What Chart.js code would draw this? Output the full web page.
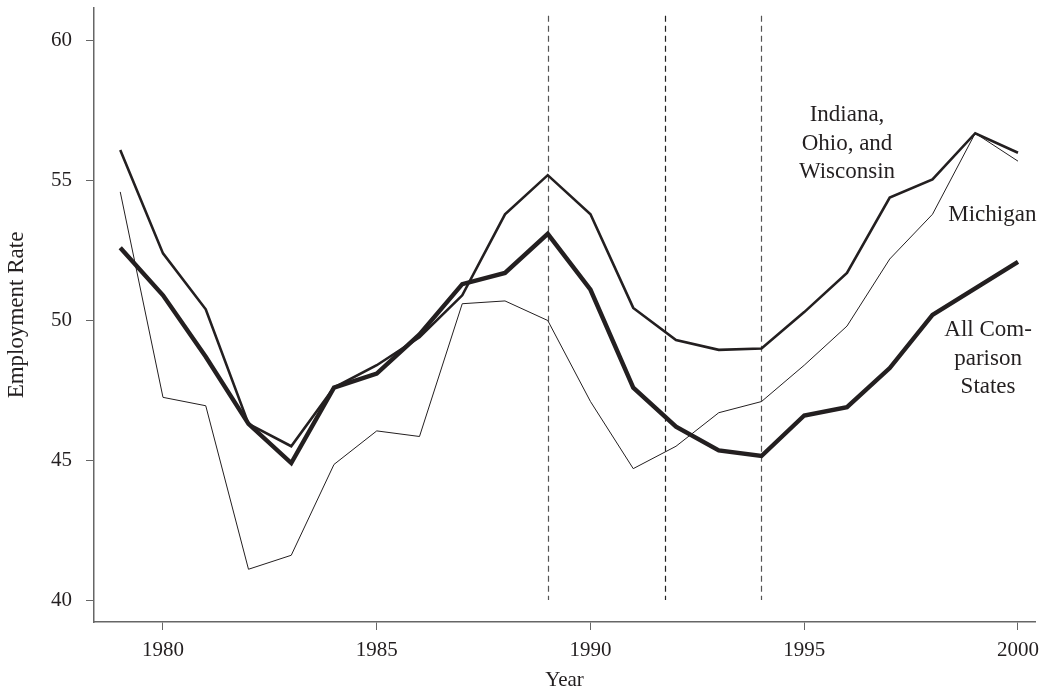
<!DOCTYPE html>
<html>
<head>
<meta charset="utf-8">
<title>Employment Rate</title>
<script src="https://cdn.jsdelivr.net/npm/chart.js@4.4.1/dist/chart.umd.min.js"></script>
<style>
  html, body { margin: 0; padding: 0; background: #fff; }
  #wrap { width: 1049px; height: 691px; }
</style>
</head>
<body>
<div id="wrap"><canvas id="empChart" width="1049" height="691"></canvas></div>
<script>
// Data
const years = [1979, 1980, 1981, 1982, 1983, 1984, 1985, 1986, 1987, 1988, 1989,
               1990, 1991, 1992, 1993, 1994, 1995, 1996, 1997, 1998, 1999, 2000];
const indOhWis = [56.1, 52.4, 50.4, 46.3, 45.5, 47.6, 48.4, 49.4, 50.9, 53.8, 55.2,
                  53.8, 50.45, 49.3, 48.95, 49.0, 50.3, 51.7, 54.4, 55.05, 56.7, 56.0];
const michigan = [54.6, 47.25, 46.95, 41.1, 41.6, 44.85, 46.05, 45.85, 50.6, 50.7, 50.0,
                  47.1, 44.7, 45.5, 46.7, 47.1, 48.4, 49.8, 52.2, 53.8, 56.7, 55.7];
const allStates = [52.6, 50.9, 48.7, 46.3, 44.9, 47.6, 48.1, 49.5, 51.3, 51.7, 53.1,
                   51.1, 47.6, 46.2, 45.35, 45.15, 46.6, 46.9, 48.3, 50.2, 51.15, 52.1];

const xTicks = [1980, 1985, 1990, 1995, 2000];
const yTicks = [40, 45, 50, 55, 60];
const markerYears = [1989, 1991.75, 1994];

const ink = '#231f20';
const axisGray = '#666666';
const serif = "'Liberation Serif', 'Times New Roman', serif";

function toPoints(vals) {
  return years.map((x, i) => ({ x: x, y: vals[i] }));
}

// Dashed vertical marker lines
const markerPlugin = {
  id: 'markers',
  beforeDatasetsDraw(chart) {
    const { ctx, scales: { x, y } } = chart;
    ctx.save();
    ctx.lineWidth = 1.2;
    ctx.setLineDash([6, 4]);
    markerYears.forEach((yr, i) => {
      const px = Math.round(x.getPixelForValue(yr)) + 0.5;
      ctx.strokeStyle = i === 1 ? '#222' : '#555';
      ctx.beginPath();
      ctx.moveTo(px, y.getPixelForValue(60.9));
      ctx.lineTo(px, y.getPixelForValue(40));
      ctx.stroke();
    });
    ctx.restore();
  }
};

// Series labels written inside the plot
const labelPlugin = {
  id: 'seriesLabels',
  afterDatasetsDraw(chart) {
    const { ctx, scales: { x, y } } = chart;
    const blocks = [
      { at: [1996.0, 57.35], lines: ['Indiana,', 'Ohio, and', 'Wisconsin'] },
      { at: [1999.4, 53.77], lines: ['Michigan'] },
      { at: [1999.3, 49.66], lines: ['All Com-', 'parison', 'States'] }
    ];
    ctx.save();
    ctx.fillStyle = ink;
    ctx.font = '23px ' + serif;
    ctx.textAlign = 'center';
    ctx.textBaseline = 'middle';
    blocks.forEach(b => {
      const px = x.getPixelForValue(b.at[0]);
      const py = y.getPixelForValue(b.at[1]);
      b.lines.forEach((t, i) => ctx.fillText(t, px, py + i * 28.5));
    });
    ctx.restore();
  }
};

new Chart(document.getElementById('empChart'), {
  type: 'line',
  data: {
    datasets: [
      {
        label: 'Michigan',
        data: toPoints(michigan),
        borderColor: ink,
        borderWidth: 1,
        pointRadius: 0,
        tension: 0
      },
      {
        label: 'Indiana, Ohio, and Wisconsin',
        data: toPoints(indOhWis),
        borderColor: ink,
        borderWidth: 2.6,
        pointRadius: 0,
        tension: 0
      },
      {
        label: 'All Comparison States',
        data: toPoints(allStates),
        borderColor: ink,
        borderWidth: 4.4,
        pointRadius: 0,
        tension: 0
      }
    ]
  },
  options: {
    responsive: false,
    animation: false,
    devicePixelRatio: 1,
    layout: { padding: { top: 8, right: 14, bottom: 0, left: 0 } },
    plugins: {
      legend: { display: false },
      tooltip: { enabled: false }
    },
    scales: {
      x: {
        type: 'linear',
        min: 1978.386,
        max: 2000.398,
        afterBuildTicks: s => { s.ticks = xTicks.map(v => ({ value: v })); },
        afterFit: s => {
          s.height = 69;
          s.paddingLeft = 0;
          s.paddingRight = 0;
        },
        grid: { drawOnChartArea: false, drawTicks: true, tickLength: 8, color: axisGray },
        border: { color: axisGray, width: 1.5 },
        ticks: {
          color: ink,
          padding: 8,
          maxRotation: 0,
          font: { family: serif, size: 21 },
          callback: v => String(v)
        },
        title: {
          display: true,
          text: 'Year',
          color: ink,
          font: { family: serif, size: 21, lineHeight: 1 },
          padding: { top: 0, bottom: 0 }
        }
      },
      y: {
        min: 39.213,
        max: 61.18,
        afterBuildTicks: s => { s.ticks = yTicks.map(v => ({ value: v })); },
        afterFit: s => {
          s.width = 94;
          s.paddingTop = 0;
          s.paddingBottom = 0;
        },
        grid: { drawOnChartArea: false, drawTicks: true, tickLength: 8, color: axisGray },
        border: { color: axisGray, width: 1.5 },
        ticks: {
          color: ink,
          padding: 14,
          font: { family: serif, size: 21 },
          callback: v => String(v)
        },
        title: {
          display: true,
          text: 'Employment Rate',
          color: ink,
          font: { family: serif, size: 23, lineHeight: 1.2 },
          padding: { top: 3, bottom: 0 }
        }
      }
    }
  },
  plugins: [markerPlugin, labelPlugin]
});
</script>
</body>
</html>
